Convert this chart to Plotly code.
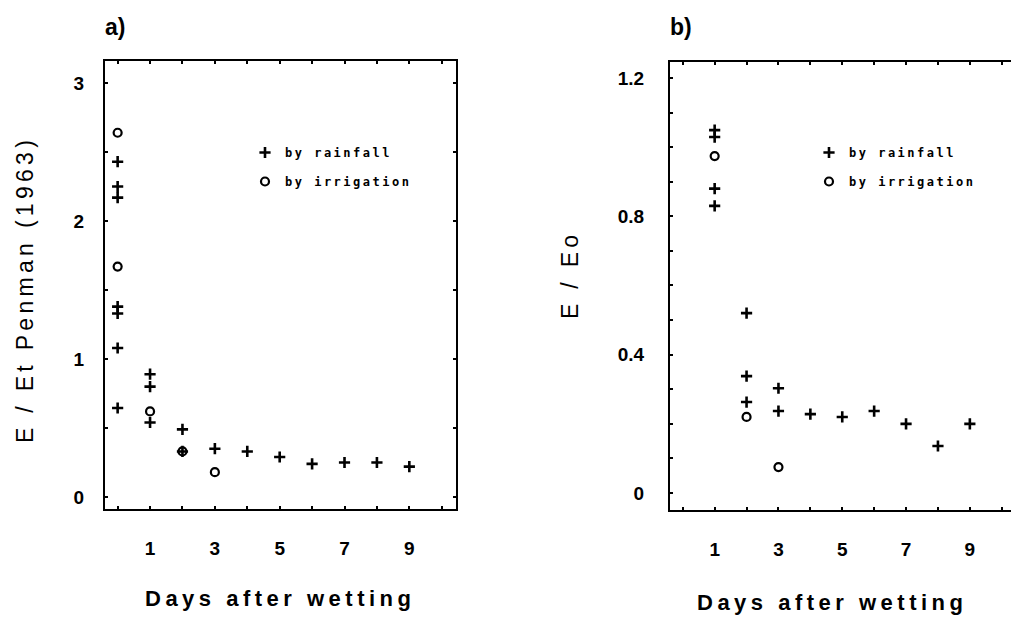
import plotly.graph_objects as go

W, H = 1011, 617

# ---- data ----
a_rain_day = [0, 0, 0, 0, 0, 0, 0, 1, 1, 1, 2, 2, 3, 4, 5, 6, 7, 8, 9]
a_rain_val = [2.43, 2.25, 2.17, 1.38, 1.33, 1.08, 0.645, 0.89, 0.80, 0.54,
              0.49, 0.33, 0.35, 0.33, 0.29, 0.24, 0.25, 0.25, 0.22]
a_irr_day = [0, 0, 1, 2, 3]
a_irr_val = [2.64, 1.67, 0.62, 0.33, 0.18]

b_rain_day = [1, 1, 1, 1, 2, 2, 2, 3, 3, 4, 5, 6, 7, 8, 9]
b_rain_val = [1.049, 1.029, 0.88, 0.83, 0.52, 0.338, 0.263, 0.303, 0.237,
              0.228, 0.22, 0.237, 0.20, 0.136, 0.20]
b_irr_day = [1, 2, 3]
b_irr_val = [0.974, 0.22, 0.075]

x_ticks = [1, 3, 5, 7, 9]
a_yticks = [0, 1, 2, 3]
b_yticks = [0, 0.4, 0.8, 1.2]
b_yticklabels = ["0", "0.4", "0.8", "1.2"]

series_names = ["by rainfall", "by irrigation"]

# ---- styles ----
plus = dict(symbol="cross-thin", size=8, color="black", line=dict(width=2.6, color="black"))
circ = dict(symbol="circle-open", size=8, color="black", line=dict(width=2.2, color="black"))
TICKFONT = dict(family="Liberation Sans", size=19, color="black", weight="bold")
LEGFONT = dict(family="DejaVu Sans Mono", size=12, color="black", weight="bold")


def spaced(t, px):
    return f'<span style="letter-spacing:{px}px">{t}</span>'


fig = go.Figure()
fig.add_trace(go.Scatter(x=a_rain_day, y=a_rain_val, mode="markers", marker=plus,
                         name=spaced(series_names[0], 2.5), xaxis="x", yaxis="y",
                         legend="legend", legendgroup="a1"))
fig.add_trace(go.Scatter(x=a_irr_day, y=a_irr_val, mode="markers", marker=circ,
                         name=spaced(series_names[1], 2.5), xaxis="x", yaxis="y",
                         legend="legend", legendgroup="a2"))
fig.add_trace(go.Scatter(x=b_rain_day, y=b_rain_val, mode="markers", marker=plus,
                         name=spaced(series_names[0], 2.5), xaxis="x2", yaxis="y2",
                         legend="legend2", legendgroup="b1"))
fig.add_trace(go.Scatter(x=b_irr_day, y=b_irr_val, mode="markers", marker=circ,
                         name=spaced(series_names[1], 2.5), xaxis="x2", yaxis="y2",
                         legend="legend2", legendgroup="b2"))

axline = dict(showline=True, linewidth=2, linecolor="black", showgrid=False,
              zeroline=False, tickfont=TICKFONT, ticks="inside", ticklen=3,
              tickwidth=2, tickcolor="black")

fig.update_layout(
    width=W, height=H,
    margin=dict(l=0, r=0, t=0, b=0),
    paper_bgcolor="white", plot_bgcolor="white",
    xaxis=dict(domain=[105 / W, 456 / W], range=[-0.39, 10.44], anchor="y",
               tickvals=x_ticks, mirror="ticks", ticklabelstandoff=21,
               minor=dict(dtick=1, tick0=0, ticks="inside", ticklen=3, tickwidth=2,
                          tickcolor="black"), **axline),
    yaxis=dict(domain=[1 - 509 / H, 1 - 61 / H], range=[-0.087, 3.16], anchor="x",
               tickvals=a_yticks, mirror="ticks", ticklabelstandoff=15,
               minor=dict(dtick=0.5, tick0=0, ticks="inside", ticklen=3, tickwidth=2,
                          tickcolor="black"), **axline),
    xaxis2=dict(domain=[670 / W, 1.0], range=[-0.40, 10.29], anchor="y2",
                tickvals=x_ticks, mirror="ticks", ticklabelstandoff=21,
                minor=dict(dtick=1, tick0=0, ticks="inside", ticklen=3, tickwidth=2,
                           tickcolor="black"), **axline),
    yaxis2=dict(domain=[1 - 510 / H, 1 - 62 / H], range=[-0.049, 1.246], anchor="x2",
                tickvals=b_yticks, ticktext=b_yticklabels, mirror=False,
                ticklabelstandoff=20,
                minor=dict(dtick=0.1, tick0=0, ticks="inside", ticklen=3, tickwidth=2,
                           tickcolor="black"), **axline),
    legend=dict(x=245 / W, y=1 - 138 / H, xanchor="left", yanchor="top",
                bgcolor="rgba(0,0,0,0)", font=LEGFONT, tracegroupgap=10,
                itemsizing="trace"),
    legend2=dict(x=809 / W, y=1 - 138 / H, xanchor="left", yanchor="top",
                 bgcolor="rgba(0,0,0,0)", font=LEGFONT, tracegroupgap=10,
                 itemsizing="trace"),
    showlegend=True,
)

ann_font_title = dict(family="Liberation Sans", size=23, color="black", weight="bold")
ax_title_font = dict(family="Liberation Sans", size=22, color="black", weight="bold")
ylab_font = dict(family="Liberation Sans", size=23, color="black")

fig.add_annotation(text="a)", x=103 / W, y=1 - 27 / H, xref="paper", yref="paper",
                   xanchor="left", yanchor="middle", showarrow=False, font=ann_font_title)
fig.add_annotation(text="b)", x=668 / W, y=1 - 27 / H, xref="paper", yref="paper",
                   xanchor="left", yanchor="middle", showarrow=False, font=ann_font_title)
fig.add_annotation(text=spaced("E / Et Penman (1963)", 4.3), x=25 / W, y=1 - 290 / H,
                   xref="paper", yref="paper", textangle=-90, xanchor="center",
                   yanchor="middle", showarrow=False, font=ylab_font)
fig.add_annotation(text=spaced("E / Eo", 4.3), x=570 / W, y=1 - 275 / H,
                   xref="paper", yref="paper", textangle=-90, xanchor="center",
                   yanchor="middle", showarrow=False, font=ylab_font)
fig.add_annotation(text=spaced("Days after wetting", 4.5), x=280 / W, y=1 - 598 / H,
                   xref="paper", yref="paper", xanchor="center", yanchor="middle",
                   showarrow=False, font=ax_title_font)
fig.add_annotation(text=spaced("Days after wetting", 4.5), x=832 / W, y=1 - 602 / H,
                   xref="paper", yref="paper", xanchor="center", yanchor="middle",
                   showarrow=False, font=ax_title_font)

fig.write_html("out.html")
